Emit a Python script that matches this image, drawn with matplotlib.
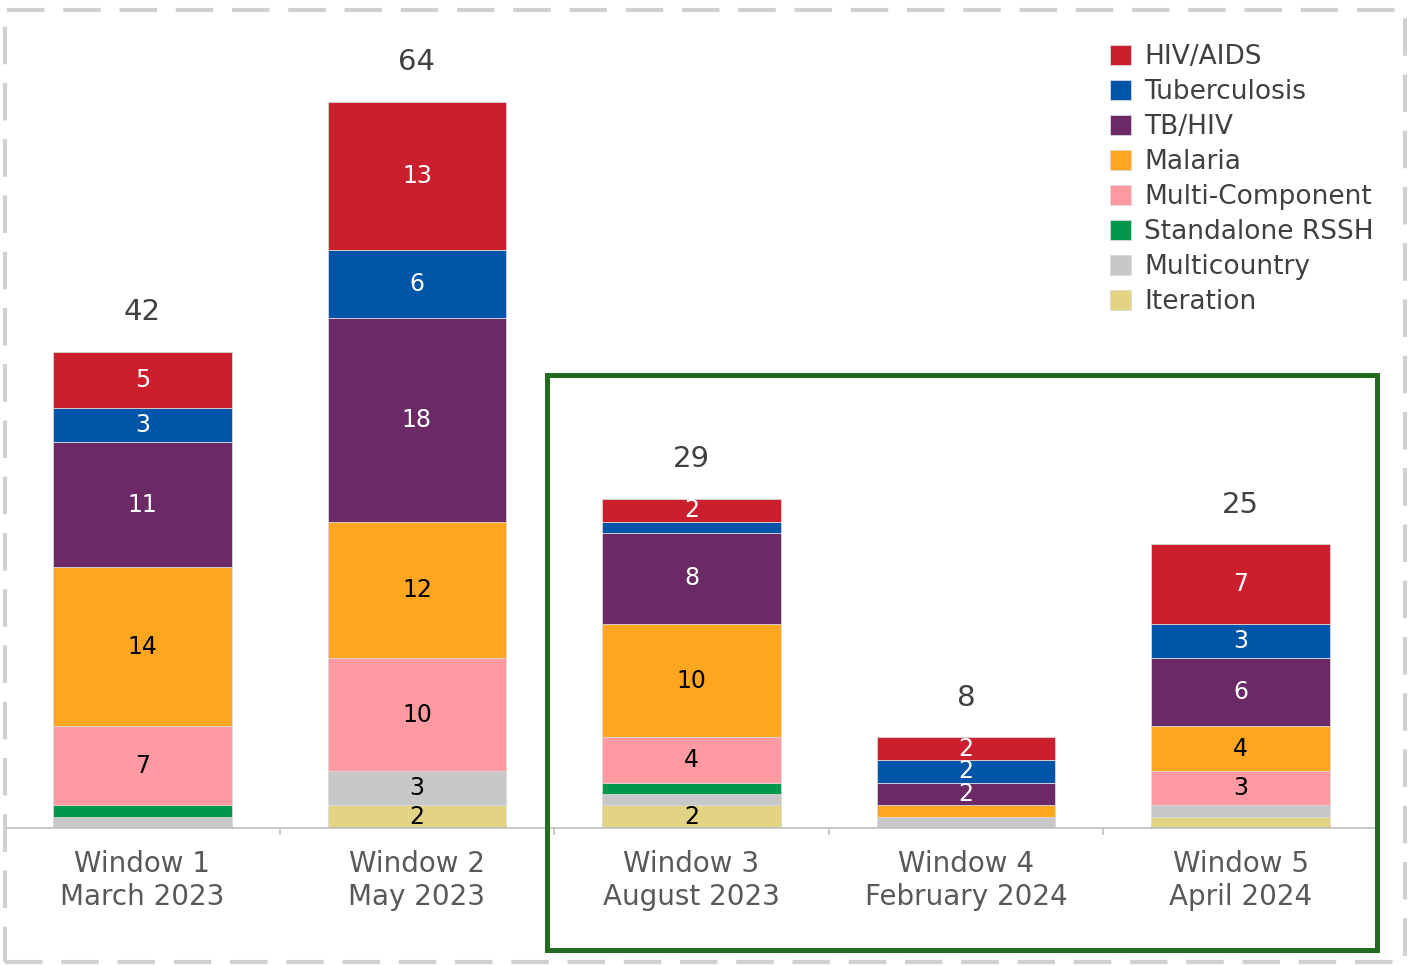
import matplotlib.pyplot as plt
import matplotlib.patches as mpatches
import numpy as np

plt.rcParams['font.family'] = ['DejaVu Sans']

windows = ['Window 1\nMarch 2023', 'Window 2\nMay 2023', 'Window 3\nAugust 2023',
           'Window 4\nFebruary 2024', 'Window 5\nApril 2024']

# stacked from bottom to top
series = ['Iteration', 'Multicountry', 'Standalone RSSH', 'Multi-Component',
          'Malaria', 'TB/HIV', 'Tuberculosis', 'HIV/AIDS']
iteration = [0, 2, 2, 0, 1]
multicountry = [1, 3, 1, 1, 1]
rssh = [1, 0, 1, 0, 0]
multi_component = [7, 10, 4, 0, 3]
malaria = [14, 12, 10, 1, 4]
tb_hiv = [11, 18, 8, 2, 6]
tuberculosis = [3, 6, 1, 2, 3]
hiv_aids = [5, 13, 2, 2, 7]

values = [iteration, multicountry, rssh, multi_component, malaria, tb_hiv, tuberculosis, hiv_aids]
colors = ['#E3D385', '#C8C8C8', '#00994C', '#FF9AA2', '#FFA621', '#6B2A66', '#0055A8', '#CC1F2D']
text_colors = ['black', 'black', 'white', 'black', 'black', 'white', 'white', 'white']

W, H = 1410, 965
fig = plt.figure(figsize=(W / 100, H / 100), dpi=100)
ax = fig.add_axes([5 / W, 137 / H, 1373 / W, 828 / H])

x = np.arange(len(windows))
bottom = np.zeros(len(windows))
for name, vals, col, tc in zip(series, values, colors, text_colors):
    vals = np.array(vals, dtype=float)
    ax.bar(x, vals, 0.65, bottom=bottom, color=col, edgecolor='#D9D9D9', linewidth=0.6,
           label=name, zorder=2)
    for xi, v, b in zip(x, vals, bottom):
        if v >= 2:
            ax.text(xi, b + v / 2, f'{int(v)}', ha='center', va='center',
                    fontsize=17, color=tc, zorder=3)
    bottom += vals

for xi, t in zip(x, bottom):
    ax.text(xi, t + 3.5, f'{int(t)}', ha='center', va='center', fontsize=21, color='#404040')

ax.set_xlim(-0.5, 4.5)
ax.set_ylim(0, 73)
ax.set_yticks([])
for s in ['top', 'right', 'left']:
    ax.spines[s].set_visible(False)
ax.spines['bottom'].set_color('#BFBFBF')
ax.spines['bottom'].set_linewidth(1.2)
ax.set_xticks(x)
ax.set_xticklabels(windows, fontsize=20, color='#595959')
ax.tick_params(axis='x', which='major', length=0, pad=16)
ax.set_xticks(np.arange(-0.5, 5, 1), minor=True)
ax.tick_params(axis='x', which='minor', length=5, color='#BFBFBF', width=1.2)

handles, labels = ax.get_legend_handles_labels()
fig.legend(handles[::-1], labels[::-1], loc='upper left',
           bbox_to_anchor=(1110 / W, 1 - 44 / H), frameon=False, fontsize=19,
           handlelength=0.8, handleheight=0.8, handletextpad=0.5, labelspacing=0.34,
           borderpad=0, borderaxespad=0, labelcolor='#404040')

# green box around windows 3-5
fig.patches.append(mpatches.Rectangle((547 / W, 15 / H), 830 / W, 575 / H,
                                      transform=fig.transFigure, fill=False,
                                      edgecolor='#236B1E', linewidth=3.6, zorder=5))
# dashed outer frame
fig.patches.append(mpatches.Rectangle((5 / W, 3 / H), 1400 / W, 952 / H,
                                      transform=fig.transFigure, fill=False,
                                      edgecolor='#D0D0D0', linewidth=3,
                                      linestyle=(0, (9, 4.5)), zorder=5))

fig.savefig('out.png', dpi=100)
